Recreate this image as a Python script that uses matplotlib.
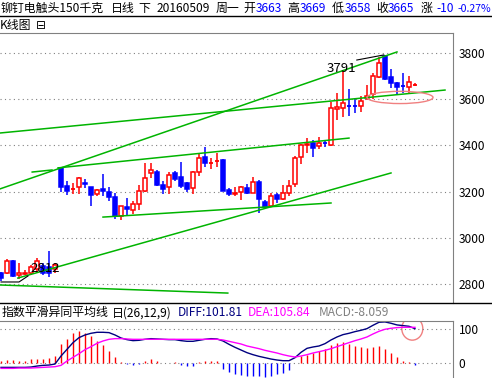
import matplotlib
matplotlib.use('Agg')
import matplotlib.pyplot as plt
from matplotlib.patches import Ellipse
from matplotlib.lines import Line2D
import numpy as np

plt.rcParams['font.family'] = ['Noto Sans CJK SC', 'DejaVu Sans']

# daily candles, 70 days up to 20160509
opens = [2847, 2847, 2901, 2840, 2844, 2849, 2865, 2878, 2875, 2864,
         3304, 3226, 3212, 3219, 3236, 3219, 3191, 3213, 3197, 3178,
         3095, 3134, 3120, 3148, 3202, 3282, 3284, 3229, 3219, 3282,
         3262, 3236, 3215, 3284, 3349, 3321, 3330, 3337, 3207, 3190,
         3200, 3215, 3196, 3241, 3154, 3139, 3186, 3168, 3196, 3233,
         3351, 3400, 3410, 3398, 3412, 3402, 3559, 3564, 3571, 3571,
         3571, 3606, 3623, 3695, 3787, 3695, 3669, 3660, 3655, 3663]
highs = [2851, 2907, 2905, 2893, 2860, 2882, 2911, 2890, 2943, 2893,
         3306, 3246, 3236, 3265, 3255, 3219, 3210, 3277, 3220, 3193,
         3137, 3174, 3160, 3229, 3323, 3323, 3295, 3246, 3286, 3290,
         3330, 3244, 3291, 3362, 3395, 3344, 3366, 3340, 3214, 3222,
         3226, 3232, 3265, 3251, 3166, 3193, 3193, 3229, 3250, 3355,
         3406, 3431, 3424, 3438, 3425, 3590, 3626, 3727, 3643, 3600,
         3615, 3660, 3712, 3785, 3791, 3730, 3676, 3712, 3701, 3669]
lows = [2812, 2843, 2830, 2821, 2838, 2840, 2847, 2840, 2832, 2850,
        3200, 3186, 3190, 3190, 3215, 3139, 3183, 3183, 3160, 3082,
        3076, 3095, 3105, 3121, 3200, 3258, 3225, 3190, 3188, 3246,
        3217, 3200, 3190, 3270, 3308, 3300, 3308, 3204, 3180, 3180,
        3164, 3190, 3193, 3106, 3130, 3135, 3150, 3164, 3180, 3220,
        3320, 3366, 3349, 3384, 3395, 3398, 3510, 3523, 3528, 3540,
        3543, 3595, 3600, 3691, 3685, 3648, 3623, 3626, 3626, 3658]
closes = [2828, 2901, 2835, 2847, 2849, 2873, 2901, 2847, 2847, 2883,
          3222, 3204, 3215, 3258, 3232, 3186, 3206, 3204, 3178, 3095,
          3137, 3126, 3146, 3203, 3258, 3294, 3229, 3212, 3272, 3254,
          3226, 3212, 3284, 3345, 3323, 3324, 3333, 3204, 3189, 3194,
          3219, 3196, 3241, 3167, 3135, 3181, 3168, 3193, 3225, 3347,
          3400, 3406, 3391, 3411, 3409, 3561, 3568, 3583, 3568, 3568,
          3593, 3614, 3701, 3756, 3687, 3669, 3655, 3658, 3675, 3665]

diff = [-14, -14, -14, -14, -14, -13, -10, -8, -7, -4,
        20, 40, 60, 75, 83, 88, 91, 91, 90, 83,
        74, 69, 66, 67, 70, 72, 71, 70, 69, 69,
        66, 64, 64, 67, 70, 72, 71, 65, 55, 46,
        38, 30, 24, 19, 15, 11, 8, 6, 6, 15,
        31, 43, 47, 50, 57, 68, 77, 84, 88, 93,
        97, 102, 112, 121, 122, 118, 113, 111, 109, 101.81]
dea = [-17, -17, -17, -16, -16, -16, -15, -14, -13, -12,
       -8, 5, 16, 27, 39, 48, 58, 65, 70, 72,
       72, 71, 70, 70, 70, 70, 70, 70, 70, 70,
       70, 70, 70, 70, 70, 70, 70, 68, 64, 60,
       56, 50, 46, 42, 37, 33, 29, 24, 20, 17,
       20, 24, 29, 33, 37, 42, 48, 54, 60, 66,
       71, 77, 86, 94, 100, 103, 105, 106, 106, 105.84]
macd = [5, 7, 7, 5, 6, 10, 12, 10, 13, 20,
        56, 70, 88, 96, 88, 80, 66, 53, 35, 18,
        3, -3, -8, -4, 5, 11, 5, -2, -1, 1,
        -7, -10, -9, 3, 5, 5, 4, -20, -27, -33,
        -37, -39, -40, -41, -44, -40, -34, -30, -22, -1,
        21, 23, 30, 36, 40, 53, 58, 63, 56, 51,
        46, 43, 46, 51, 40, 30, 18, 6, 1, -8.059]

price_ticks = [2800, 3000, 3200, 3400, 3600, 3800]
macd_ticks = [0, 100]

# hand drawn trend lines (day index, price)
trend_i0 = [-0.17, -0.17, 5.2, 9.5, 17, 2.8, -0.17]
trend_p0 = [3454, 3212, 3285, 3303, 3090, 2826, 2796]
trend_i1 = [74, 66, 8.5, 58, 55, 65, 37.8]
trend_p1 = [3640, 3805, 3294, 3432, 3151, 3281, 2761]

W, H = 492, 378
RED = '#ff0000'
BLUE = '#0000ff'
GREEN = '#00b400'
GRAY = '#808080'


def fx(x):
    return x / W


def fy(y):
    return 1 - y / H


fig = plt.figure(figsize=(W / 100, H / 100), dpi=100)

# main K-line panel
ax = fig.add_axes([0, fy(303), fx(453), (303 - 33) / H])
ax.set_xlim(-1 / 6, 452 / 6)
ax.set_ylim(2718, 3887)

o = np.array(opens, float)
h = np.array(highs, float)
l = np.array(lows, float)
c = np.array(closes, float)
idx = np.arange(len(c))
up = c >= o

ax.vlines(idx, l, h, colors=[RED if u else BLUE for u in up], lw=1.1, zorder=2)
bw = 0.75
for i in idx:
    lo, hi = min(o[i], c[i]), max(o[i], c[i])
    col = RED if up[i] else BLUE
    if hi - lo < 4:
        ax.hlines((lo + hi) / 2, i - bw / 2, i + bw / 2, colors=col, lw=1.3, zorder=3)
    elif up[i]:
        ax.bar(i, hi - lo, bottom=lo, width=bw, facecolor='white', edgecolor=col, lw=1.1, zorder=3)
    else:
        ax.bar(i, hi - lo, bottom=lo, width=bw, facecolor=col, edgecolor=col, lw=1.1, zorder=3)

for a, b, cc, d in zip(trend_i0, trend_p0, trend_i1, trend_p1):
    ax.plot([a, cc], [b, d], color=GREEN, lw=1.1, zorder=4)

ax.add_patch(Ellipse((66.5, 3608), 11, 53, fill=False, ec='#f08080', lw=1, zorder=5))

ax.text(56.7, 3735, '3791', ha='center', va='center', fontsize=9.5, color='black', zorder=6)
ax.plot([59.3, 63.8], [3770, 3792], color='black', lw=0.8, zorder=6)
ax.text(7.3, 2868, '2812', ha='center', va='center', fontsize=9.5, color='black', zorder=6)
ax.plot([0, 3, 4.5], [2809, 2809, 2835], color='black', lw=0.8, zorder=6)

ax.set_yticks(price_ticks)
ax.yaxis.tick_right()
ax.tick_params(axis='y', length=0, pad=4, labelsize=8.6)
ax.set_xticks([])
ax.grid(axis='y', color=GRAY, linestyle=(0, (1, 3)), lw=0.8)
for s in ['left', 'bottom']:
    ax.spines[s].set_visible(False)
for s in ['top', 'right']:
    ax.spines[s].set_color(GRAY)

# MACD panel
ax2 = fig.add_axes([0, 0, fx(453), (378 - 320.7) / H])
ax2.set_xlim(-1 / 6, 452 / 6)
ax2.set_ylim(-45.8, 125.7)
m = np.array(macd, float)
ax2.vlines(idx, 0, m, colors=[RED if v >= 0 else BLUE for v in m], lw=1)
ax2.plot(idx, diff, color='#000080', lw=1)
ax2.plot(idx, dea, color='#ff00ff', lw=1)
ax2.add_patch(Ellipse((68.55, 102), 3.5, 69, fill=False, ec='#f08080', lw=1))
ax2.set_yticks(macd_ticks)
ax2.yaxis.tick_right()
ax2.tick_params(axis='y', length=0, pad=4, labelsize=8.6)
ax2.set_xticks([])
ax2.grid(axis='y', color=GRAY, linestyle=(0, (1, 3)), lw=0.8)
for s in ['left', 'bottom']:
    ax2.spines[s].set_visible(False)
for s in ['top', 'right']:
    ax2.spines[s].set_color(GRAY)

# separators
fig.add_artist(Line2D([0, 1], [fy(15.7)] * 2, color='black', lw=1))
fig.add_artist(Line2D([0, 1], [fy(303.3)] * 2, color='black', lw=1))

# header texts
title_parts = [('铆钉电触头150千克', 1, 'black', 8.6), ('日线', 111, 'black', 8.6),
               ('下', 138, 'black', 8.6), ('20160509', 157, 'black', 8.6),
               ('周一', 216, 'black', 8.6), ('开', 243, 'black', 8.6),
               ('3663', 256, BLUE, 8.6), ('高', 287, 'black', 8.6), ('3669', 300, BLUE, 8.6),
               ('低', 332, 'black', 8.6), ('3658', 345, BLUE, 8.6), ('收', 376, 'black', 8.6),
               ('3665', 388, BLUE, 8.6), ('涨', 421, 'black', 8.6), ('-10', 436, BLUE, 8.6),
               ('-0.27%', 458, BLUE, 7.6)]
for s, x, col, fs in title_parts:
    fig.text(fx(x), fy(8.5), s, color=col, fontsize=fs, ha='left', va='center')

fig.text(fx(0), fy(25.7), 'K线图', fontsize=8.6, ha='left', va='center')
fig.text(fx(36), fy(25.7), '⊟', fontsize=8.6, ha='left', va='center',
         family=['DejaVu Sans'])

macd_parts = [('指数平滑异同平均线', 2, 'black'), ('日(26,12,9)', 112, 'black'),
              ('DIFF:101.81', 178, '#000080'), ('DEA:105.84', 248, '#ff00ff'),
              ('MACD:-8.059', 319, GRAY)]
for s, x, col in macd_parts:
    fig.text(fx(x), fy(312.7), s, color=col, fontsize=8.6, ha='left', va='center')

fig.savefig('out.png', dpi=100)
